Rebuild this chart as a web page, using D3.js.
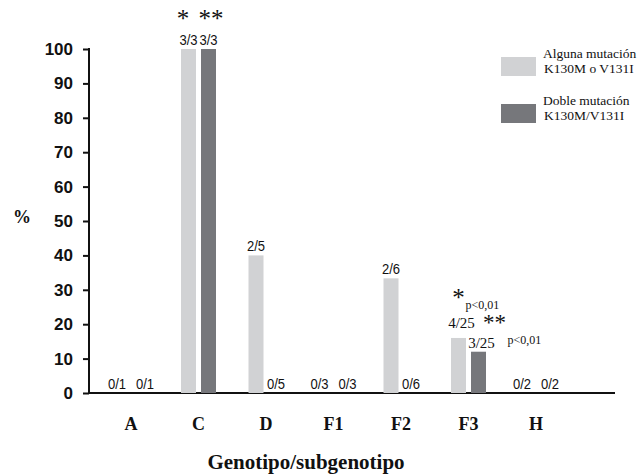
<!DOCTYPE html>
<html>
<head>
  <meta charset="utf-8">
  <title>Genotipo</title>
  <style type="text/css">
    body{ margin:0; background:#fff; }
    svg text{ fill:#111; }
  </style>
</head>
<body>
<div id="chart"></div>
<script src="https://d3js.org/d3.v7.min.js"></script>
<script type="text/javascript">
  // data
  var genotypes = ["A","C","D","F1","F2","F3","H"];
  var totals    = [1, 3, 5, 3, 6, 25, 2];
  var anyMut    = [0, 3, 2, 0, 2, 4, 0];   // alguna mutacion K130M o V131I
  var doubleMut = [0, 3, 0, 0, 0, 3, 0];   // doble mutacion K130M/V131I
  var yTicks    = [0,10,20,30,40,50,60,70,80,90,100];
  var seriesKeys   = ["any","double"];
  var seriesNames  = [["Alguna mutación","K130M o V131I"],["Doble mutación","K130M/V131I"]];
  var seriesColors = ["#d1d2d4","#76777b"];

  var rows = genotypes.map(function(g, i){
    return {g:g, n:totals[i], any:anyMut[i], double:doubleMut[i]};
  });

  var W = 639, H = 474;
  var svg = d3.select("#chart").append("svg").attr("width", W).attr("height", H);

  var y = d3.scaleLinear().domain([0,100]).range([393,49]);
  var x = d3.scalePoint().domain(genotypes).range([131,536]);
  var xs = d3.scaleBand().domain(seriesKeys).range([-17.5,17.5]).paddingInner(0.25);

  var serif = "'Liberation Serif','Times New Roman',serif";
  var sans  = "'Liberation Sans',Arial,sans-serif";

  // y axis
  var yAxis = svg.append("g")
      .attr("transform","translate(89,0)")
      .call(d3.axisLeft(y).tickValues(yTicks).tickSize(6).tickPadding(10));
  yAxis.select(".domain").remove();
  yAxis.selectAll(".tick line").attr("stroke","#111").attr("stroke-width",2);
  yAxis.selectAll(".tick text")
      .style("font-family",sans)
      .style("font-weight","bold").style("font-size","17px").attr("fill","#111");
  svg.append("line").attr("x1",89).attr("x2",89).attr("y1",y(100)-1).attr("y2",y(0)+1)
      .attr("stroke","#111").attr("stroke-width",2);
  svg.append("line").attr("x1",88).attr("x2",615).attr("y1",y(0)).attr("y2",y(0))
      .attr("stroke","#111").attr("stroke-width",2);

  svg.append("text").attr("x",22).attr("y",223).attr("text-anchor","middle")
      .style("font-family",serif)
      .style("font-weight","bold").style("font-size","18px").text("%");

  // bars
  var groups = svg.selectAll("g.grp").data(rows).enter().append("g")
      .attr("class","grp")
      .attr("transform", function(d){ return "translate(" + x(d.g) + ",0)"; });

  groups.selectAll("rect").data(function(d){
      return seriesKeys.map(function(k, j){ return {k:k, j:j, v:d[k]/d.n*100}; });
    }).enter().append("rect")
      .attr("x", function(d){ return xs(d.k); })
      .attr("width", xs.bandwidth())
      .attr("y", function(d){ return y(d.v); })
      .attr("height", function(d){ return y(0) - y(d.v); })
      .attr("fill", function(d){ return seriesColors[d.j]; });

  // fraction labels (sans ones squeezed to look like a narrow face)
  groups.selectAll("text.frac").data(function(d){
      var bothZero = d.any === 0 && d.double === 0;
      return seriesKeys.map(function(k, j){
        return {k:k, g:d.g, txt:d[k] + "/" + d.n, v:d[k]/d.n*100, spread:bothZero ? 1.4 : 1};
      });
    }).enter().append("text")
      .attr("class","frac")
      .attr("text-anchor","middle")
      .attr("x", function(d){ return (xs(d.k) + xs.bandwidth()/2) * d.spread + (d.g === "F3" ? 3 : 0); })
      .attr("y", function(d){ return y(d.v) - (d.g === "F3" && d.k === "any" ? 10 : 4); })
      .style("font-family", function(d){ return d.g === "F3" ? serif : sans; })
      .style("font-size", function(d){ return d.g === "F3" ? "15px" : "15.5px"; })
      .attr("fill","#333")
      .text(function(d){ return d.txt; })
      .each(function(d){
        if (d.g !== "F3") {
          var w = this.getComputedTextLength();
          d3.select(this).attr("textLength", w * 0.84).attr("lengthAdjust","spacingAndGlyphs");
        }
      });

  // significance marks
  var cx = x("C");
  svg.append("text").attr("x", cx + xs("any") + 2).attr("y", 27).attr("text-anchor","middle")
      .style("font-family",serif).style("font-size","25px").attr("fill","#222").text("*");
  svg.append("text").attr("x", cx + xs("double") + 10).attr("y", 27).attr("text-anchor","middle")
      .style("font-family",serif).style("font-size","25px").attr("fill","#222").text("**");

  var fx = x("F3");
  svg.append("text").attr("x", fx - 10).attr("y", 306).attr("text-anchor","middle")
      .style("font-family",serif).style("font-size","25px").attr("fill","#222").text("*");
  svg.append("text").attr("x", fx - 3).attr("y", 309)
      .style("font-family",serif).style("font-size","12px").text("p<0,01");
  svg.append("text").attr("x", fx + 26).attr("y", 330).attr("text-anchor","middle")
      .style("font-family",serif).style("font-size","23px").attr("fill","#222").text("**");
  svg.append("text").attr("x", fx + 39).attr("y", 344)
      .style("font-family",serif).style("font-size","12px").text("p<0,01");

  // category labels
  svg.selectAll("text.cat").data(genotypes).enter().append("text")
      .attr("class","cat")
      .attr("x", function(d){ return x(d); })
      .attr("y", 430)
      .attr("text-anchor","middle")
      .style("font-family",serif).style("font-weight","bold").style("font-size","18px")
      .text(function(d){ return d; });

  svg.append("text").attr("x",306).attr("y",469).attr("text-anchor","middle")
      .style("font-family",serif).style("font-weight","bold").style("font-size","21px")
      .text("Genotipo/subgenotipo");

  // legend
  var leg = svg.selectAll("g.leg").data(seriesKeys).enter().append("g")
      .attr("class","leg")
      .attr("transform", function(d, i){ return "translate(501," + (57 + i*47) + ")"; });
  leg.append("rect").attr("width",35).attr("height",19)
      .attr("fill", function(d, i){ return seriesColors[i]; });
  leg.selectAll("text").data(function(d, i){ return seriesNames[i]; }).enter().append("text")
      .attr("x", function(d, j){ return j === 0 ? 42 : 43; })
      .attr("y", function(d, j){ return j === 0 ? 1 : 16; })
      .style("font-family",serif).style("font-size","13.5px")
      .text(function(d){ return d; });
</script>
</body>
</html>
